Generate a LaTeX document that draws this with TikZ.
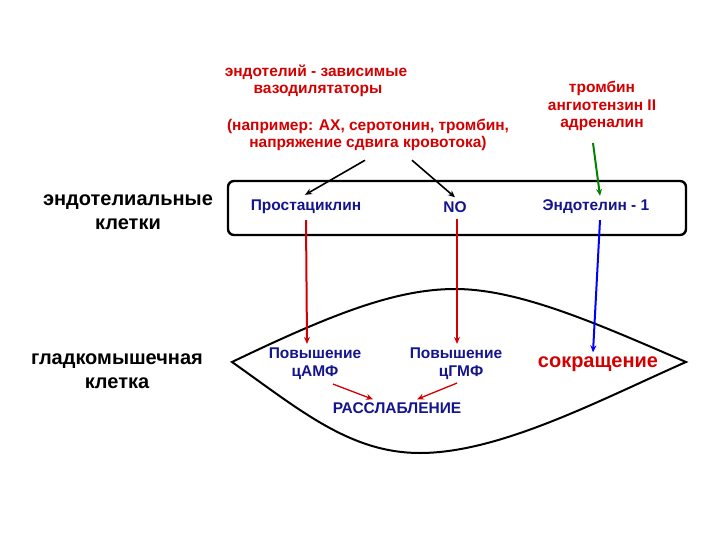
\documentclass[tikz,border=0pt]{standalone}
\usepackage{fontspec}
\setmainfont{Liberation Sans}
\usetikzlibrary{arrows.meta}
\definecolor{rojo}{RGB}{210,0,0}
\definecolor{azul}{RGB}{20,20,140}
\definecolor{verde}{RGB}{0,130,0}
\tikzset{
  titulo/.style={font=\bfseries\fontsize{20}{24}\selectfont, align=center, inner sep=0pt},
  rojotxt/.style={text=rojo, font=\bfseries\fontsize{15.5}{17.5}\selectfont, align=center, inner sep=0pt},
  azultxt/.style={text=azul, font=\bfseries\fontsize{15.5}{18}\selectfont, align=center, inner sep=0pt},
  flecha/.style={-{Stealth[length=7pt,width=6pt]}, line width=2pt},
}
\begin{document}
\begin{tikzpicture}[x=1pt,y=-1pt]
  \useasboundingbox (0,0) rectangle (720,540);

  % Titulos
  \node[titulo] (endot) at (128,212) {эндотелиальные\\клетки};
  \node[titulo] (gladk) at (117,371) {гладкомышечная\\клетка};

  % Textos de arriba
  \node[rojotxt] (vaso) at (316,81) {эндотелий - зависимые\\\hspace*{4pt}вазодилятаторы};
  \node[rojotxt] (ejemplo) at (368,135) {(например: АХ, серотонин, тромбин,\\напряжение сдвига кровотока)};
  \node[rojotxt] (agon) at (602,106) {тромбин\\ангиотензин II\\адреналин};

  % Capa endotelial
  \draw[line width=2.4pt, rounded corners=6pt] (228,181) rectangle (686,235);
  \node[azultxt] (prost) at (306,207) {Простациклин};
  \node[azultxt] (no) at (455,207) {NO};
  \node[azultxt] (endo) at (596,207) {Эндотелин - 1};

  % Celula muscular
  \draw[line width=2pt] (232,362) .. controls (330,315) and (395,289) .. (455,289)
    .. controls (520,289) and (600,325) .. (686,362)
    .. controls (600,400) and (500,453) .. (420,453)
    .. controls (350,453) and (300,410) .. (232,362) -- cycle;
  \node[azultxt] (povA) at (315,364) {Повышение\\цАМФ};
  \node[azultxt] (povG) at (456,364) {Повышение\\\hspace*{10pt}цГМФ};
  \node[text=rojo, font=\bfseries\fontsize{20}{22}\selectfont, inner sep=0pt] (sokr) at (598,364) {сокращение};
  \node[azultxt] (rasl) at (397,408) {РАССЛАБЛЕНИЕ};

  % Flechas
  \draw[flecha, line width=1.6pt] ([xshift=-3pt,yshift=-9pt]ejemplo.south) -- ([xshift=-1pt,yshift=5pt]prost.north);
  \draw[flecha, line width=1.6pt] ([xshift=44pt,yshift=-9pt]ejemplo.south) -- ([yshift=4pt]no.north);
  \draw[flecha, verde] ([xshift=-9pt,yshift=-12pt]agon.south) -- ([xshift=4pt,yshift=4pt]endo.north);
  \draw[flecha, rojo] ([yshift=-6pt]prost.south) -- ([xshift=-8pt,yshift=4pt]povA.north);
  \draw[flecha, rojo] ([xshift=2pt,yshift=-6pt]no.south) -- ([xshift=1pt,yshift=4pt]povG.north);
  \draw[flecha, blue] ([xshift=4pt,yshift=-6pt]endo.south) -- ([xshift=-5pt,yshift=4pt]sokr.north);
  \draw[flecha, rojo, line width=1.3pt] ([xshift=18pt,yshift=-4pt]povA.south) -- ([xshift=-24pt,yshift=3pt]rasl.north);
  \draw[flecha, rojo, line width=1.3pt] ([xshift=1pt,yshift=-3pt]povG.south) -- ([xshift=20pt,yshift=3pt]rasl.north);
\end{tikzpicture}
\end{document}
